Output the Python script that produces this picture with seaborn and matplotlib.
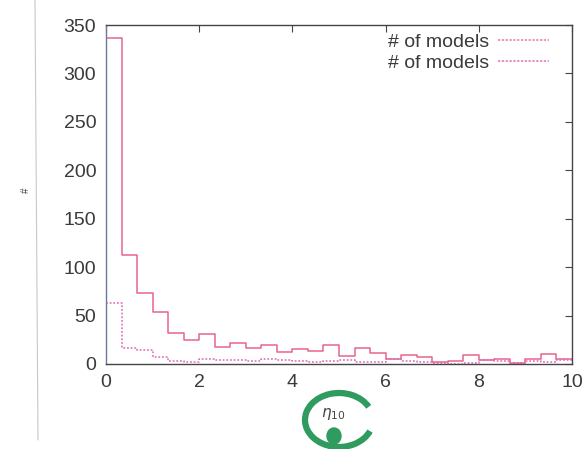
import numpy as np
import pandas as pd
import seaborn as sns
import matplotlib
matplotlib.use("Agg")
import matplotlib.pyplot as plt
from matplotlib.lines import Line2D
from matplotlib.patches import Arc, Ellipse

# ---- data ----
bin_range = (0.0, 10.0)
n_bins = 30
counts_a = [337, 113, 73, 54, 32, 25, 31, 18, 22, 17, 20, 12, 16, 13, 20,
            8, 17, 11, 5, 9, 7, 2, 3, 9, 4, 5, 1, 5, 10, 5]
counts_b = [63, 17, 14, 7, 3, 2, 5, 4, 4, 3, 5, 4, 3, 2, 3,
            4, 2, 2, 5, 3, 2, 1, 0, 1, 4, 3, 1, 3, 2, 4]
legend_labels = ["# of models", "# of models"]
x_ticks = [0, 2, 4, 6, 8, 10]
y_ticks = [0, 50, 100, 150, 200, 250, 300, 350]
x_label = r"$\eta_{10}$"

sns.set_style("white")
plt.rcParams["font.family"] = ["Liberation Sans", "DejaVu Sans"]

W, H = 585, 449
fig = plt.figure(figsize=(W / 100, H / 100), dpi=100)
ax = fig.add_axes([106 / W, 1 - 364 / H, (572 - 106) / W, (364 - 25) / H])

edges = np.linspace(bin_range[0], bin_range[1], n_bins + 1)
centers = (edges[:-1] + edges[1:]) / 2
df_a = pd.DataFrame({"x": centers, "w": counts_a})
df_b = pd.DataFrame({"x": centers, "w": counts_b})

col_a = "#e8648a"
col_b = "#e068b8"
sns.histplot(data=df_a, x="x", weights="w", bins=n_bins, binrange=bin_range,
             element="step", fill=False, color=col_a, linewidth=1.1, ax=ax)
sns.histplot(data=df_b, x="x", weights="w", bins=n_bins, binrange=bin_range,
             element="step", fill=False, color=col_b, linewidth=1.1,
             linestyle=(0, (1.2, 1.2)), ax=ax)

ax.set_xlim(0, 10)
ax.set_ylim(0, 350)
ax.set_xticks(x_ticks)
ax.set_yticks(y_ticks)
ax.set_xlabel("")
ax.set_ylabel("")
ax.tick_params(direction="in", length=5, width=0.8, top=True, right=True,
               labelsize=14, labelcolor="#3a3a3a", color="#444444", pad=7)
for side, sp in ax.spines.items():
    sp.set_visible(True)
    sp.set_linewidth(1.0)
    sp.set_color("#444444")
ax.spines["left"].set_color("#6a7a9a")

handles = [Line2D([], [], color="#ee7896", lw=1.1, linestyle=(0, (1.5, 1))),
           Line2D([], [], color="#e270c0", lw=1.1, linestyle=(0, (1.5, 1)))]
leg = ax.legend(handles, legend_labels, loc="upper right",
                bbox_to_anchor=(549 / W, 1 - 33 / H), bbox_transform=fig.transFigure,
                frameon=False, markerfirst=False, fontsize=14, handlelength=2.6,
                handletextpad=0.5, labelspacing=0.2, borderpad=0, borderaxespad=0)
for t in leg.get_texts():
    t.set_color("#3a3a3a")

# x label
fig.text(333 / W, 1 - 414 / H, x_label, fontsize=11, color="#444444",
         ha="center", va="center")
# y label mark
fig.text(26 / W, 1 - 190 / H, "#", fontsize=7, rotation=90, color="#444444",
         ha="center", va="center")

# faint scan line on the left
fig.add_artist(Line2D([35 / W, 38 / W], [1.0, 1 - 440 / H], transform=fig.transFigure,
                      color="#c8c8c8", lw=0.8))

# hand-drawn green circle annotation
green = "#2f9b5f"
arc = Arc((339 / W, 1 - 420 / H), 68 / W, 54 / H, theta1=30, theta2=335,
          transform=fig.transFigure, color=green, lw=4.5)
fig.add_artist(arc)
dot = Ellipse((334 / W, 1 - 436 / H), 14 / W, 16 / H, transform=fig.transFigure,
              color=green)
fig.add_artist(dot)

fig.savefig("out.png", dpi=100)
